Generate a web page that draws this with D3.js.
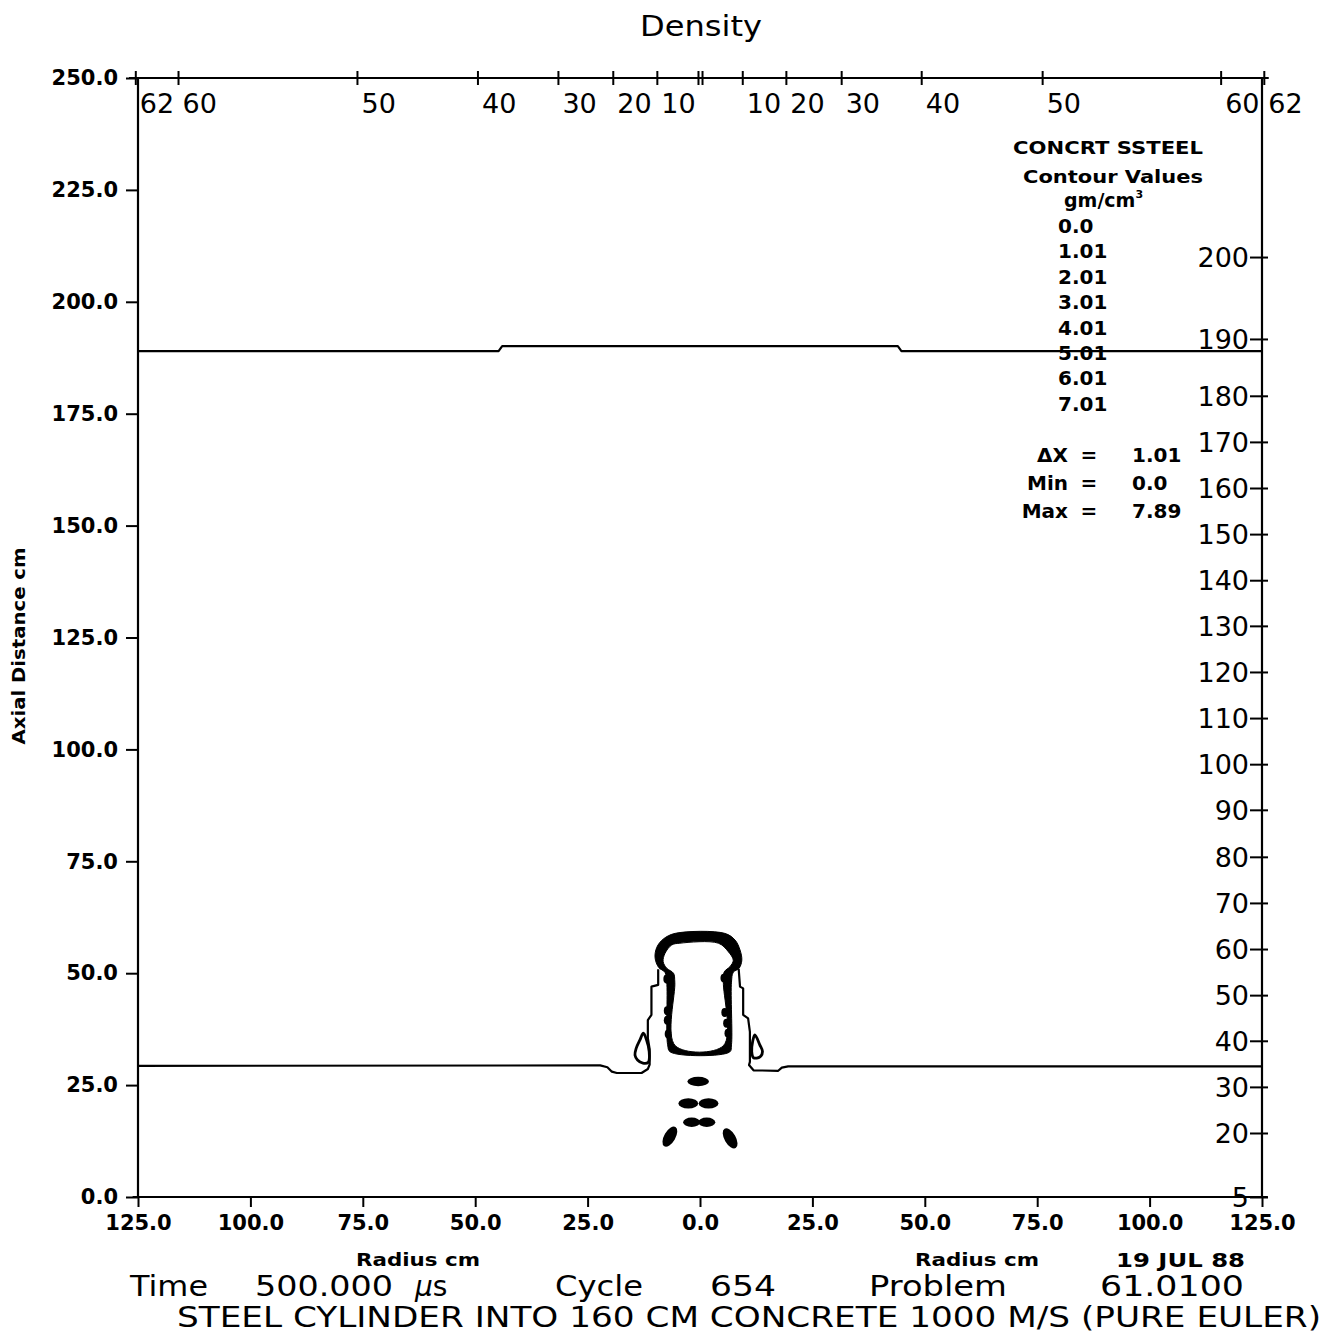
<!DOCTYPE html>
<html><head><meta charset="utf-8">
<script src="https://cdn.jsdelivr.net/npm/d3@7"></script>
<style>body{margin:0;background:#fff}</style>
</head><body>
<svg id="chart" width="1343" height="1338" xmlns="http://www.w3.org/2000/svg"></svg>
<script>
// ---------- data ----------
const chartTitle = "Density";
const axialTicks = [0, 25, 50, 75, 100, 125, 150, 175, 200, 225, 250];
const radiusTicks = [-125, -100, -75, -50, -25, 0, 25, 50, 75, 100, 125];
// top axis: mesh cell index vs radius (cm)
const topCellLabels = [62, 60, 50, 40, 30, 20, 10, 1, 1, 10, 20, 30, 40, 50, 60, 62];
const topCellRadius = [-125.6, -116.1, -76.3, -49.5, -31.6, -19.4, -9.6, -0.45, 0.45, 9.4, 19.1, 31.4, 49.2, 76.1, 115.8, 125.4];
// right axis: mesh cell index vs axial distance (cm)
const rightCellLabels = [5, 20, 30, 40, 50, 60, 70, 80, 90, 100, 110, 120, 130, 140, 150, 160, 170, 180, 190, 200];
const rightCellAxial = [0, 14.3, 24.6, 34.9, 45.1, 55.4, 65.7, 76.0, 86.5, 96.7, 107.0, 117.3, 127.6, 137.8, 148.1, 158.4, 168.7, 179.0, 191.7, 210.0];

const materials = "CONCRT SSTEEL";
const contourLevels = ["0.0", "1.01", "2.01", "3.01", "4.01", "5.01", "6.01", "7.01"];
const statNames = ["\u0394X", "Min", "Max"];
const statValues = ["1.01", "0.0", "7.89"];

// contour lines, [radius cm, axial cm]
const upperSurface = [[-125, 189.0], [-44.8, 189.0], [-44.0, 190.1], [44.0, 190.1], [44.8, 189.0], [125, 189.0]];
const leftCrater = [[-125, 29.3], [-22.2, 29.4], [-20.6, 29.0], [-19.6, 28.0], [-18.5, 27.7], [-13.0, 27.7], [-11.6, 28.6],
  [-11.2, 29.6], [-11.2, 33.0], [-11.6, 35.5], [-11.6, 39.5], [-10.8, 40.7], [-10.8, 47.0], [-9.3, 47.4], [-9.3, 50.9]];
const rightCrater = [[8.6, 51.0], [8.9, 47.0], [9.6, 46.6], [9.6, 40.7], [10.7, 39.9], [11.1, 36.9], [11.1, 30.2], [10.9, 29.5],
  [11.9, 28.3], [17.4, 28.2], [18.2, 28.9], [19.6, 29.2], [125, 29.2]];
const leftLoop = [[-12.6, 36.6], [-13.35, 35.1], [-14.2, 33.2], [-14.46, 31.7], [-13.9, 30.6], [-12.7, 29.9], [-11.5, 30.1], [-11.3, 32.5], [-11.9, 35.1]];
const rightLoop = [[12.2, 36.2], [13.3, 34.0], [13.9, 32.5], [13.35, 31.3], [11.9, 31.1], [11.5, 32.5], [11.7, 34.7]];
const steelOuter = [[-5.5, 58.9], [5.5, 58.9], [7.8, 57.4], [8.9, 55.2], [9.3, 52.9], [8.7, 51.1], [7.4, 50.2], [7.0, 48.0],
  [7.0, 34.0], [6.6, 32.4], [-6.6, 32.4], [-7.2, 34.0], [-7.4, 48.0], [-7.8, 50.2], [-9.2, 51.3], [-10.0, 53.5], [-9.6, 55.8], [-8.2, 57.6]];
const steelInner = [[-4.5, 56.7], [4.1, 56.7], [6.3, 54.8], [7.4, 52.9], [6.7, 51.5], [5.4, 50.3], [5.2, 48.0], [5.2, 33.8],
  [-5.5, 33.8], [-5.6, 48.0], [-5.9, 50.0], [-7.4, 51.1], [-8.2, 52.6], [-7.8, 54.4], [-6.3, 56.3]];
const wallBumps = [[-7.4, 48.7], [-7.3, 41.6], [-7.3, 39.5], [-7.1, 36.4], [5.3, 48.9], [5.5, 41.2], [5.9, 38.8], [6.2, 36.6]];
// debris: [radius, axial, half-width cm, half-height cm, rotation deg]
const debris = [[-0.4, 25.8, 2.4, 1.05, 0], [-2.6, 20.9, 2.2, 1.15, 0], [1.9, 20.9, 2.2, 1.15, 0],
  [-1.85, 16.7, 1.9, 1.05, 0], [1.5, 16.7, 1.9, 1.05, 0], [-6.7, 13.5, 1.25, 2.5, 30], [6.7, 13.1, 1.25, 2.5, -30]];

const footerTime = "500.000";
const footerCycle = "654";
const footerProblem = "61.0100";
const footerDate = "19 JUL 88";
const footerCaption = "STEEL CYLINDER INTO 160 CM CONCRETE 1000 M/S (PURE EULER)";

// ---------- drawing ----------
const FONT = "'DejaVu Sans', 'Liberation Sans', sans-serif";
const svg = d3.select("#chart");
svg.append("rect").attr("width", 1343).attr("height", 1338).attr("fill", "#fff");

const x = d3.scaleLinear().domain([-125, 125]).range([138, 1262]);
const y = d3.scaleLinear().domain([0, 250]).range([1197, 78]);

function txt(g, str, px, py, opts = {}) {
  const t = g.append("text").attr("x", px).attr("y", py)
    .attr("font-family", FONT).attr("font-size", opts.size || 20)
    .attr("font-weight", opts.weight || "normal")
    .attr("text-anchor", opts.anchor || "start").attr("fill", "#000")
    .text(str);
  if (opts.len) t.attr("textLength", opts.len).attr("lengthAdjust", "spacingAndGlyphs");
  return t;
}

// frame
const frame = svg.append("g").attr("stroke", "#000").attr("stroke-width", 2.2);
frame.append("line").attr("x1", x(-127)).attr("x2", x(126.5)).attr("y1", y(250)).attr("y2", y(250));
frame.append("line").attr("x1", x(-126.2)).attr("x2", x(126.3)).attr("y1", y(0)).attr("y2", y(0));
frame.append("line").attr("x1", x(-125)).attr("x2", x(-125)).attr("y1", y(250)).attr("y2", y(0));
frame.append("line").attr("x1", x(125)).attr("x2", x(125)).attr("y1", y(250)).attr("y2", y(0));

function styleAxis(g, size, weight) {
  g.select(".domain").remove();
  g.selectAll(".tick line").attr("stroke", "#000").attr("stroke-width", 2);
  g.selectAll(".tick text").attr("font-family", FONT).attr("font-size", size)
    .attr("font-weight", weight).attr("fill", "#000");
}

// left axis
const gl = svg.append("g").attr("transform", `translate(${x(-125)},0)`)
  .call(d3.axisLeft(y).tickValues(axialTicks).tickSize(12).tickPadding(8).tickFormat(d3.format(".1f")));
styleAxis(gl, 21, "bold");

// bottom axis
const gb = svg.append("g").attr("transform", `translate(0,${y(0)})`)
  .call(d3.axisBottom(x).tickValues(radiusTicks).tickSize(10).tickPadding(8)
    .tickFormat(d => d3.format(".1f")(Math.abs(d))));
styleAxis(gb, 21, "bold");
gb.selectAll(".tick line").attr("y1", -1);

// top axis (cell index)
const gt = svg.append("g").attr("transform", `translate(0,${y(250)})`)
  .call(d3.axisBottom(x).tickValues(topCellRadius).tickSize(7)
    .tickFormat((d, i) => topCellLabels[i] === 1 ? "" : topCellLabels[i]));
styleAxis(gt, 27, "normal");
gt.selectAll(".tick line").attr("y1", -7).attr("y2", 7);
gt.selectAll(".tick text").attr("text-anchor", "start").attr("x", 4).attr("y", 26).attr("dy", "0.35em");

// right axis (cell index)
const gr = svg.append("g").attr("transform", `translate(${x(125)},0)`)
  .call(d3.axisLeft(y).tickValues(rightCellAxial).tickSize(12).tickPadding(1)
    .tickFormat((d, i) => rightCellLabels[i]));
styleAxis(gr, 27, "normal");
gr.selectAll(".tick line").attr("x1", 6);
gr.selectAll(".tick text").attr("dy", "0.36em");

// contours
const line = d3.line().x(d => x(d[0])).y(d => y(d[1]));
const cg = svg.append("g").attr("fill", "none").attr("stroke", "#000").attr("stroke-width", 2.2)
  .attr("stroke-linejoin", "round");
cg.append("path").attr("d", line(upperSurface));
cg.append("path").attr("d", line(leftCrater));
cg.append("path").attr("d", line(rightCrater));
const loopLine = d3.line().x(d => x(d[0])).y(d => y(d[1])).curve(d3.curveCatmullRomClosed);
cg.append("path").attr("d", loopLine(leftLoop)).attr("stroke-width", 2.8);
cg.append("path").attr("d", loopLine(rightLoop)).attr("stroke-width", 2.8);

const bandLine = d3.line().x(d => x(d[0])).y(d => y(d[1])).curve(d3.curveCatmullRomClosed.alpha(0.5));
svg.append("path").attr("d", bandLine(steelOuter) + bandLine(steelInner))
  .attr("fill", "#000").attr("fill-rule", "evenodd").attr("stroke", "#000").attr("stroke-width", 1);

svg.append("g").selectAll("ellipse").data(wallBumps).join("ellipse")
  .attr("cx", d => x(d[0])).attr("cy", d => y(d[1]))
  .attr("rx", x(0.75) - x(0)).attr("ry", y(0) - y(1.0)).attr("fill", "#000");

svg.append("g").selectAll("ellipse").data(debris).join("ellipse")
  .attr("transform", d => `translate(${x(d[0])},${y(d[1])}) rotate(${d[4]})`)
  .attr("rx", d => x(d[2]) - x(0)).attr("ry", d => y(0) - y(d[3])).attr("fill", "#000");

// title
txt(svg, chartTitle, 701, 36, { size: 29, anchor: "middle", len: 122 });

// axis titles
svg.append("text").attr("transform", "translate(25,646) rotate(-90)")
  .attr("font-family", FONT).attr("font-size", 17).attr("font-weight", "bold")
  .attr("text-anchor", "middle").attr("textLength", 197).attr("lengthAdjust", "spacingAndGlyphs")
  .text("Axial Distance cm");
txt(svg, "Radius cm", 356, 1266, { size: 17, weight: "bold", len: 124 });
txt(svg, "Radius cm", 915, 1266, { size: 17, weight: "bold", len: 124 });
txt(svg, footerDate, 1116, 1267, { size: 20, weight: "bold", len: 129 });

// legend
const lg = svg.append("g");
txt(lg, materials, 1013, 154, { size: 18, weight: "bold", len: 190 });
txt(lg, "Contour Values", 1023, 183, { size: 18, weight: "bold", len: 180 });
const unit = txt(lg, "gm/cm", 1064, 207, { size: 19, weight: "bold" });
unit.append("tspan").attr("font-size", 11).attr("dy", -9).text("3");
lg.selectAll("text.lev").data(contourLevels).join("text").attr("class", "lev")
  .attr("x", 1058).attr("y", (d, i) => 233 + i * 25.4)
  .attr("font-family", FONT).attr("font-size", 20).attr("font-weight", "bold").attr("fill", "#000")
  .text(d => d);
statNames.forEach((n, i) => {
  const yy = 462 + i * 28;
  txt(lg, n, 1068, yy, { size: 20, weight: "bold", anchor: "end" });
  txt(lg, "=", 1089, yy, { size: 20, weight: "bold", anchor: "middle" });
  txt(lg, statValues[i], 1132, yy, { size: 20, weight: "bold" });
});

// footer
const fg = svg.append("g");
txt(fg, "Time", 130, 1296, { size: 28, len: 78 });
txt(fg, footerTime, 255, 1296, { size: 28, len: 138 });
const mu = txt(fg, "", 415, 1296, { size: 28 });
mu.append("tspan").attr("font-style", "italic").text("\u03bc");
mu.append("tspan").text("s");
txt(fg, "Cycle", 555, 1296, { size: 28, len: 88 });
txt(fg, footerCycle, 710, 1296, { size: 28, len: 66 });
txt(fg, "Problem", 869, 1296, { size: 28, len: 138 });
txt(fg, footerProblem, 1100, 1296, { size: 28, len: 144 });
txt(fg, footerCaption, 177, 1327, { size: 28, len: 1144 });
</script>
</body></html>
